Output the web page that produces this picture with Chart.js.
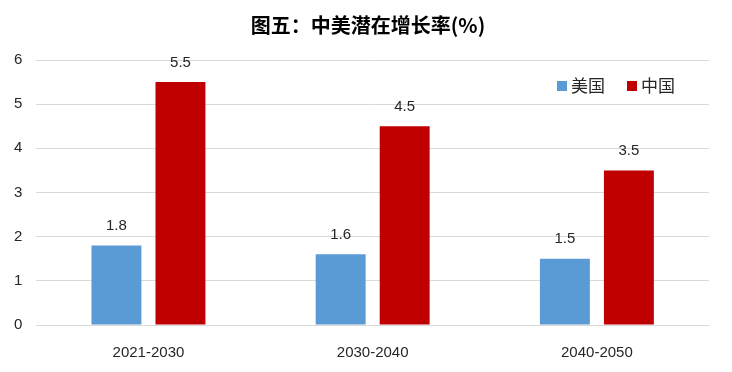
<!DOCTYPE html>
<html>
<head>
<meta charset="utf-8">
<script src="https://cdn.jsdelivr.net/npm/chart.js@4/dist/chart.umd.min.js"></script>
<style>
  html, body { margin: 0; padding: 0; background: #fff; }
  #wrap { width: 732px; height: 372px; position: relative; }
</style>
</head>
<body>
<div id="wrap"><canvas id="grafica"></canvas></div>
<script>
const periodos = ["2021-2030", "2030-2040", "2040-2050"];
const usa = [1.8, 1.6, 1.5];
const china = [5.5, 4.5, 3.5];
const nombres = ["美国", "中国"];
const colores = ["#5b9bd5", "#c00000"];
const yTicks = [0, 1, 2, 3, 4, 5, 6];
const titulo = "图五：中美潜在增长率(%)";

const fuente = "'Noto Sans CJK SC', 'Liberation Sans', sans-serif";

// titulo centrado en todo el lienzo
const tituloPlugin = {
  id: "tituloPlugin",
  afterDraw(chart) {
    const ctx = chart.ctx;
    ctx.save();
    ctx.font = "bold 20px " + fuente;
    ctx.fillStyle = "#000";
    ctx.textAlign = "center";
    ctx.textBaseline = "middle";
    ctx.fillText(titulo, chart.width / 2 + 2, 25);
    ctx.restore();
  }
};

// etiquetas encima de cada barra
const etiquetas = {
  id: "etiquetas",
  afterDatasetsDraw(chart) {
    const ctx = chart.ctx;
    ctx.save();
    ctx.font = "15px 'Liberation Sans', sans-serif";
    ctx.fillStyle = "#262626";
    ctx.textAlign = "center";
    ctx.textBaseline = "bottom";
    chart.data.datasets.forEach((ds, i) => {
      chart.getDatasetMeta(i).data.forEach((bar, j) => {
        ctx.fillText(ds.data[j].toFixed(1), bar.x, bar.y - 12);
      });
    });
    ctx.restore();
  }
};

// leyenda dentro del area del grafico
const leyenda = {
  id: "leyenda",
  afterDraw(chart) {
    const ctx = chart.ctx;
    ctx.save();
    ctx.font = "17px " + fuente;
    ctx.textBaseline = "middle";
    let x = 557;
    const y = 86;
    chart.data.datasets.forEach(ds => {
      ctx.fillStyle = ds.backgroundColor;
      ctx.fillRect(x, y - 5, 10, 10);
      ctx.fillStyle = "#262626";
      ctx.fillText(ds.label, x + 14, y);
      x += 14 + ctx.measureText(ds.label).width + 22;
    });
    ctx.restore();
  }
};

new Chart(document.getElementById("grafica"), {
  type: "bar",
  data: {
    labels: periodos,
    datasets: [
      { label: nombres[0], data: usa, backgroundColor: colores[0] },
      { label: nombres[1], data: china, backgroundColor: colores[1] }
    ]
  },
  options: {
    responsive: true,
    maintainAspectRatio: false,
    animation: false,
    layout: { padding: { left: 0, right: 23, top: 60, bottom: -1 } },
    datasets: {
      bar: { categoryPercentage: 0.571, barPercentage: 0.78 }
    },
    plugins: {
      legend: { display: false },
      tooltip: { enabled: false },
      title: { display: false }
    },
    scales: {
      x: {
        grid: { display: false },
        border: { display: false },
        ticks: { color: "#262626", font: { family: "'Liberation Sans', sans-serif", size: 15 }, padding: 11 }
      },
      y: {
        min: 0,
        max: 6,
        afterBuildTicks(axis) { axis.ticks = yTicks.map(v => ({ value: v })); },
        grid: { color: "#d9d9d9", drawTicks: false },
        border: { display: false },
        ticks: { color: "#262626", font: { family: "'Liberation Sans', sans-serif", size: 15 }, padding: 14 }
      }
    }
  },
  plugins: [etiquetas, leyenda, tituloPlugin]
});
</script>
</body>
</html>
